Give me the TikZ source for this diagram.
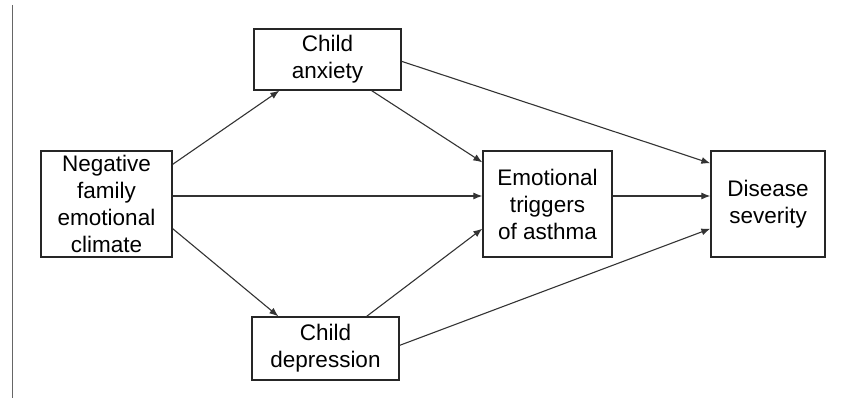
\documentclass[tikz,border=0pt]{standalone}
\usepackage{fontspec}
\setmainfont{Liberation Sans}
\usetikzlibrary{arrows.meta,calc}
\begin{document}
\begin{tikzpicture}[x=1pt,y=1pt,
  box/.style={draw=black!85,line width=1.3pt,align=center,inner sep=0pt,
    font=\fontsize{22.5}{27}\selectfont},
  conn/.style={draw=black!80,line width=1.1pt,-{Latex[length=9pt,width=7pt]}}]
\useasboundingbox (0,0) rectangle (850,398);
\draw[black!60,line width=0.8pt] (12,393) -- (12,0);
\node[box,minimum width=131pt,minimum height=106pt] (neg) at (106.5,194) {Negative\\family\\emotional\\climate};
\node[box,minimum width=147pt,minimum height=61pt] (anx) at (327.5,338.5) {Child\\anxiety};
\node[box,minimum width=147pt,minimum height=63pt] (dep) at (325.5,49.5) {Child\\depression};
\node[box,minimum width=129pt,minimum height=106pt] (emo) at (547.5,194) {Emotional\\triggers\\of asthma};
\node[box,minimum width=114pt,minimum height=106pt] (dis) at (768,194) {Disease\\severity};
\draw[conn] ([yshift=-14pt]neg.north east) -- ([xshift=26pt]anx.south west);
\draw[conn] ([yshift=29pt]neg.south east) -- ([xshift=27pt]dep.north west);
\draw[conn] ([yshift=8pt]neg.east) -- ([yshift=8pt]emo.west);
\draw[conn] ([xshift=-30pt]anx.south east) -- ([yshift=-12pt]emo.north west);
\draw[conn] ([xshift=-33pt]dep.north east) -- ([yshift=29pt]emo.south west);
\draw[conn] ([yshift=-33pt]anx.north east) -- ([yshift=-13pt]dis.north west);
\draw[conn] ([yshift=8pt]emo.east) -- ([yshift=8pt]dis.west);
\draw[conn] ([yshift=-29pt]dep.north east) -- ([yshift=29pt]dis.south west);
\end{tikzpicture}
\end{document}
